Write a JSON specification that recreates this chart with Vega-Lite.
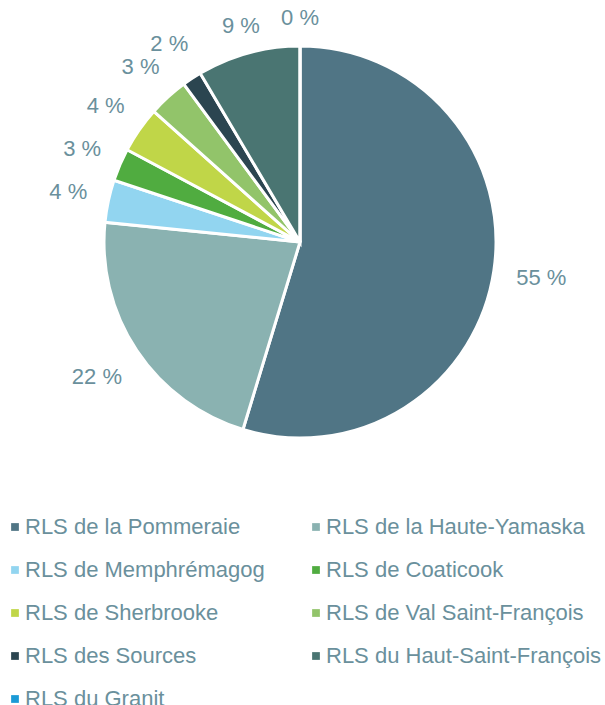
{
  "$schema": "https://vega.github.io/schema/vega-lite/v6.json",
  "width": 600,
  "height": 484,
  "padding": {"top": 0, "left": 0, "right": 5, "bottom": 221},
  "autosize": {"type": "none"},
  "background": "white",
  "config": {"view": {"stroke": null}, "font": "Liberation Sans"},
  "data": {"values": [
    {"rls": "RLS de la Pommeraie", "pct": 54.7, "label": "55 %", "rank": 1},
    {"rls": "RLS de la Haute-Yamaska", "pct": 21.9, "label": "22 %", "rank": 2},
    {"rls": "RLS de Memphrémagog", "pct": 3.5, "label": "4 %", "rank": 3},
    {"rls": "RLS de Coaticook", "pct": 2.7, "label": "3 %", "rank": 4},
    {"rls": "RLS de Sherbrooke", "pct": 3.8, "label": "4 %", "rank": 5},
    {"rls": "RLS de Val Saint-François", "pct": 3.3, "label": "3 %", "rank": 6},
    {"rls": "RLS des Sources", "pct": 1.6, "label": "2 %", "rank": 7},
    {"rls": "RLS du Haut-Saint-François", "pct": 8.5, "label": "9 %", "rank": 8},
    {"rls": "RLS du Granit", "pct": 0.0, "label": "0 %", "rank": 9}
  ]},
  "encoding": {
    "theta": {"field": "pct", "type": "quantitative", "stack": true},
    "order": {"field": "rank", "type": "quantitative"}
  },
  "layer": [
    {
      "mark": {"type": "arc", "radius": 196, "stroke": "white", "strokeWidth": 3},
      "encoding": {
        "color": {
          "field": "rls", "type": "nominal",
          "sort": {"field": "rank"},
          "scale": {
            "domain": ["RLS de la Pommeraie", "RLS de la Haute-Yamaska", "RLS de Memphrémagog", "RLS de Coaticook", "RLS de Sherbrooke", "RLS de Val Saint-François", "RLS des Sources", "RLS du Haut-Saint-François", "RLS du Granit"],
            "range": ["#507585", "#8ab2b1", "#92d5f0", "#50ac40", "#c0d648", "#92c46a", "#2b4550", "#4a7572", "#1b9ad6"]
          },
          "legend": {
            "title": null,
            "orient": "none",
            "legendX": 4,
            "legendY": 516,
            "padding": 0,
            "direction": "horizontal",
            "columns": 2,
            "columnPadding": 40,
            "rowPadding": 21,
            "symbolType": "square",
            "symbolSize": 60,
            "symbolStrokeWidth": 0,
            "labelFontSize": 22,
            "labelColor": "#6a909c",
            "labelOffset": -1,
            "labelLimit": 400
          }
        }
      }
    },
    {
      "mark": {"type": "text", "radius": 244, "fontSize": 22, "color": "#6a909c", "align": "center", "baseline": "middle"},
      "encoding": {
        "text": {"condition": {"test": "datum.rank <= 2", "field": "label"}, "value": ""}
      }
    },
    {
      "mark": {"type": "text", "radius": 237, "fontSize": 22, "color": "#6a909c", "align": "center", "baseline": "middle"},
      "encoding": {
        "text": {"condition": {"test": "datum.rank >= 3 && datum.rank <= 7", "field": "label"}, "value": ""}
      }
    },
    {
      "mark": {"type": "text", "radius": 224, "fontSize": 22, "color": "#6a909c", "align": "center", "baseline": "middle"},
      "encoding": {
        "text": {"condition": {"test": "datum.rank >= 8", "field": "label"}, "value": ""}
      }
    }
  ]
}
